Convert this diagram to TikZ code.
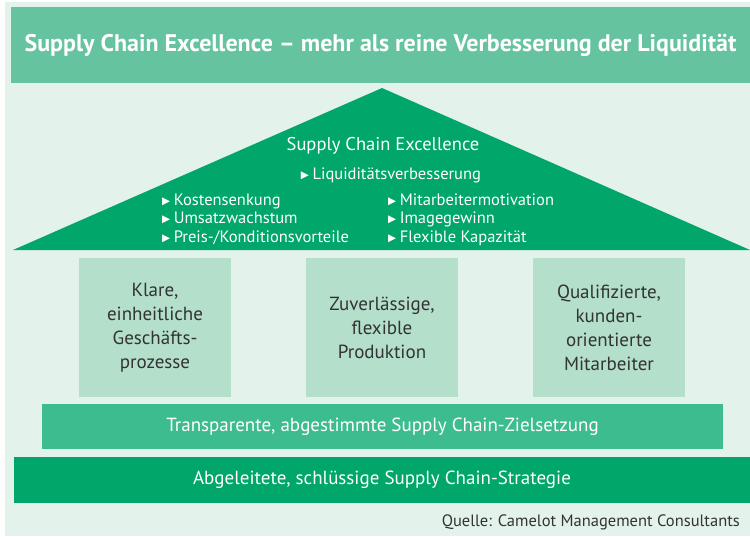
\documentclass[tikz,border=0pt]{standalone}
\usepackage{fontspec}
\setmainfont{PT Sans}
\newfontfamily\symfont{DejaVu Sans}
\usetikzlibrary{positioning}

\definecolor{bgmint}{HTML}{E3F3EC}
\definecolor{bannergreen}{HTML}{66C3A0}
\definecolor{roofgreen}{HTML}{00A66A}
\definecolor{pillarmint}{HTML}{B3DFCB}
\definecolor{beamgreen}{HTML}{3DBD8F}
\definecolor{textgray}{HTML}{333333}

% small triangle bullet
\newcommand{\bul}{{\symfont\fontsize{10.5}{10.5}\selectfont\raisebox{0.1ex}{▶}}\kern3.5pt}

\begin{document}
\begin{tikzpicture}[x=1pt, y=-1pt,
    bar/.style={rectangle, inner sep=0pt, text=white, font=\fontsize{19}{21}\selectfont},
    pillar/.style={rectangle, fill=pillarmint, minimum width=152pt, minimum height=139pt,
        align=center, text=textgray, font=\fontsize{19}{24}\selectfont},
    rooftext/.style={text=white, inner sep=0pt, font=\fontsize{16.5}{18.5}\selectfont},
    goal/.style={rooftext, anchor=base west}
]
\useasboundingbox (0,0) rectangle (750,536);
\fill[bgmint] (5,2) rectangle (750,536);

% banner
\node[bar, fill=bannergreen, minimum width=739pt, minimum height=76pt,
    font=\bfseries\fontsize{24}{26}\selectfont] (title) at (380.5,45)
    {Supply Chain Excellence -- mehr als reine Verbesserung der Liquidität};

% roof
\fill[roofgreen] (13,250) -- (382,88) -- (750,250) -- cycle;
\node[rooftext, font=\fontsize{18.5}{20}\selectfont] (roofhead) at (383,146) {Supply Chain Excellence};
\node[rooftext, anchor=base] (liquid) at (391,179) {\bul Liquiditätsverbesserung};
\node[goal] (kosten) at (162,205) {\bul Kostensenkung};
\node[goal] (umsatz) at (162,223.5) {\bul Umsatzwachstum};
\node[goal] (preis) at (162,242) {\bul Preis-/Konditionsvorteile};
\node[goal] (motivation) at (388,205) {\bul Mitarbeitermotivation};
\node[goal] (image) at (388,223.5) {\bul Imagegewinn};
\node[goal] (kapazitaet) at (388,242) {\bul Flexible Kapazität};

% pillars
\node[pillar] (prozesse) at (155,327.5) {Klare,\\einheitliche\\Geschäfts-\\prozesse};
\node[pillar] (produktion) at (382,327.5) {Zuverlässige,\\flexible\\Produktion};
\node[pillar] (mitarbeiter) at (609,327.5) {Qualifizierte,\\kunden-\\orientierte\\Mitarbeiter};

% foundation
\node[bar, fill=beamgreen, minimum width=681pt, minimum height=45pt] (ziel) at (382.5,426.5)
    {Transparente, abgestimmte Supply Chain-Zielsetzung};
\node[bar, fill=roofgreen, minimum width=736pt, minimum height=46pt] (strategie) at (382,480)
    {Abgeleitete, schlüssige Supply Chain-Strategie};

\node[anchor=east, inner sep=0pt, text=textgray, font=\fontsize{16.5}{18}\selectfont] (quelle) at (740,522)
    {Quelle: Camelot Management Consultants};
\end{tikzpicture}
\end{document}
